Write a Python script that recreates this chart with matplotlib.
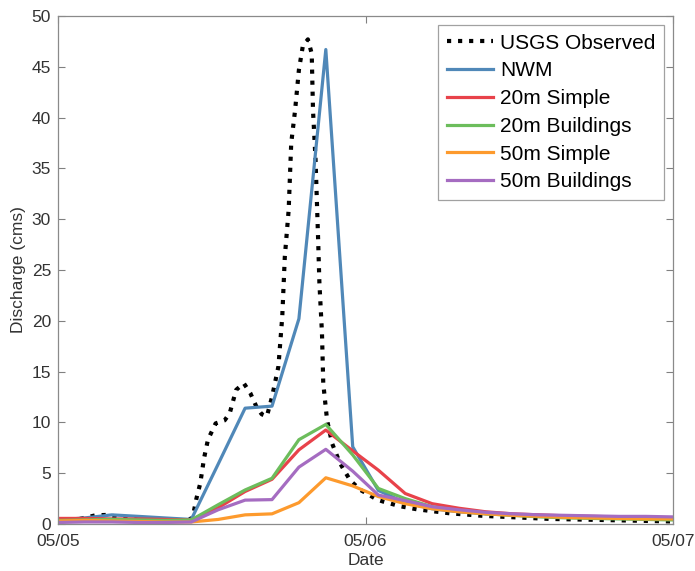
import matplotlib
matplotlib.use("Agg")
import matplotlib.pyplot as plt
import numpy as np

plt.rcParams['font.family'] = ['Liberation Sans', 'DejaVu Sans']

# Model output times (hours after 05/05 00:00)
model_hours = [0.0, 2.1, 4.2, 6.3, 8.3, 10.4, 12.5, 14.6, 16.7, 18.8, 20.9, 23.0,
               25.0, 27.1, 29.2, 31.3, 33.4, 35.5, 37.6, 39.7, 41.7, 43.8, 45.9, 48.0]

nwm = [0.4, 0.6, 0.9, 0.75, 0.6, 0.45, 5.9, 11.4, 11.6, 20.2, 46.7, 7.6,
       3.3, 2.1, 1.5, 1.2, 1.0, 0.9, 0.8, 0.7, 0.65, 0.6, 0.55, 0.5]
simple20 = [0.55, 0.55, 0.5, 0.5, 0.45, 0.4, 1.6, 3.2, 4.4, 7.3, 9.25, 7.2,
            5.3, 3.0, 2.0, 1.55, 1.2, 1.0, 0.9, 0.8, 0.75, 0.7, 0.65, 0.6]
build20 = [0.35, 0.4, 0.45, 0.4, 0.35, 0.4, 1.9, 3.35, 4.5, 8.3, 9.8, 6.8,
           3.5, 2.5, 1.7, 1.3, 1.0, 0.85, 0.7, 0.6, 0.55, 0.5, 0.45, 0.4]
simple50 = [0.3, 0.35, 0.3, 0.25, 0.2, 0.2, 0.45, 0.9, 1.0, 2.1, 4.55, 3.75,
            2.7, 2.0, 1.5, 1.2, 1.0, 0.85, 0.75, 0.65, 0.6, 0.55, 0.5, 0.5]
build50 = [0.15, 0.2, 0.2, 0.15, 0.15, 0.2, 1.4, 2.35, 2.4, 5.6, 7.35, 5.2,
           2.85, 2.3, 1.7, 1.4, 1.15, 1.0, 0.9, 0.85, 0.8, 0.75, 0.75, 0.7]

# USGS observed (hours, cms)
obs_hours = [0.0, 1.7, 2.9, 3.9, 4.8, 7.2, 9.9, 10.5, 10.8, 11.1, 11.4, 11.7, 12.3,
             13.0, 13.4, 13.9, 14.5, 15.0, 15.5, 15.9, 16.3, 16.7, 17.2, 17.5, 17.7,
             18.0, 18.2, 18.5, 18.8, 19.1, 19.5, 19.8, 19.9, 20.1, 20.3, 20.4, 20.6,
             20.7, 21.0, 21.4, 22.0, 22.8, 23.6, 24.1, 24.9, 25.4, 26.7, 28.0, 30.6,
             33.2, 35.8, 38.4, 42.3, 48.0]
obs_vals = [0.2, 0.5, 0.85, 0.9, 0.65, 0.35, 0.3, 0.6, 2.5, 4.0, 6.5, 8.3, 9.9,
            10.2, 10.9, 13.2, 13.85, 12.9, 11.5, 10.8, 10.6, 12.5, 15.5, 20.4, 26.3,
            30.9, 37.5, 40.7, 44.7, 47.0, 47.7, 46.3, 40.7, 35.8, 28.0, 23.7, 18.8,
            13.85, 10.2, 7.9, 6.0, 4.3, 3.35, 3.0, 2.4, 2.2, 1.75, 1.45, 1.05,
            0.8, 0.65, 0.5, 0.4, 0.25]

x_ticks = [0, 24, 48]
x_ticklabels = ['05/05', '05/06', '05/07']
y_ticks = [0, 5, 10, 15, 20, 25, 30, 35, 40, 45, 50]

fig = plt.figure(figsize=(6.95, 5.71), dpi=100)
ax = fig.add_axes([0.0835, 0.0823, 0.8849, 0.8897])

lw = 2.3
ax.plot(obs_hours, obs_vals, color='black', linestyle=':', linewidth=3.0,
        label='USGS Observed')
ax.plot(model_hours, nwm, color='#5088b8', linewidth=lw, label='NWM')
ax.plot(model_hours, simple20, color='#e8424a', linewidth=lw, label='20m Simple')
ax.plot(model_hours, build20, color='#6cbd5c', linewidth=lw, label='20m Buildings')
ax.plot(model_hours, simple50, color='#fd9a2d', linewidth=lw, label='50m Simple')
ax.plot(model_hours, build50, color='#a56cc1', linewidth=lw, label='50m Buildings')

ax.set_xlim(0, 48)
ax.set_ylim(0, 50)
ax.set_xticks(x_ticks)
ax.set_xticklabels(x_ticklabels)
ax.set_yticks(y_ticks)
ax.tick_params(direction='in', length=5, width=0.8, colors='#808080',
               labelcolor='#333333', labelsize=12.5, top=True, right=True, pad=5)
ax.tick_params(axis='x', pad=7)
for s in ax.spines.values():
    s.set_color('#8a8a8a')
    s.set_linewidth(0.9)

ax.set_xlabel('Date', fontsize=12.5, color='#333333', labelpad=3)
ax.set_ylabel('Discharge (cms)', fontsize=12.5, color='#333333', labelpad=4)

leg = ax.legend(loc='upper right', fontsize=15, frameon=True, fancybox=False,
                handlelength=2.2, handletextpad=0.35, borderpad=0.4,
                labelspacing=0.42, borderaxespad=0.45)
leg.get_frame().set_edgecolor('#8a8a8a')
leg.get_frame().set_linewidth(0.9)

fig.savefig('out.png', dpi=100)
